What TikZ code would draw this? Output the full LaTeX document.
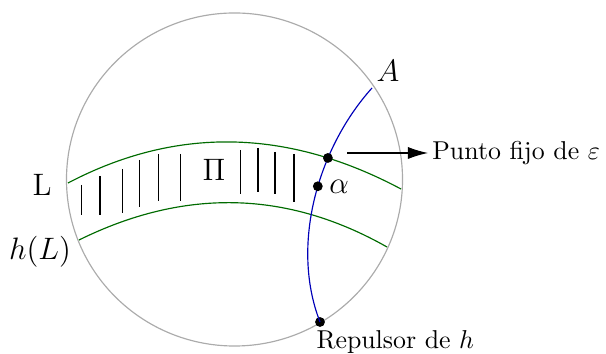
\documentclass[tikz,border=0pt]{standalone}
\usetikzlibrary{arrows.meta,intersections}
\begin{document}
\begin{tikzpicture}[x=0.387pt,y=-0.387pt,
  rim/.style={draw=black!33, line width=0.45pt},
  band/.style={draw=green!42!black, line width=0.45pt},
  orbit/.style={draw=blue!72!black, line width=0.45pt},
  hatch/.style={draw=black, line width=0.45pt},
  dot/.style={circle, fill=black, inner sep=0pt, minimum size=3.8pt},
  lbl/.style={font=\large, inner sep=0pt},
  txt/.style={inner sep=0pt},
  pointer/.style={-{Latex[length=7.8pt,width=4.7pt]}, line width=0.45pt}]
\useasboundingbox (0,0) rectangle (606,354);
% disk
\draw[rim] (234.5,179.5) ellipse [x radius=65.02pt, y radius=64.44pt];
% band boundaries
\path[band, name path=top] (68,183) .. controls (176,126.3) and (287,128.3) .. (401,189);
\path[band] (79,240) .. controls (184.3,188) and (287,190.3) .. (387,247);
% hatching
\foreach \x/\ya/\yb in {81.7/185/215, 100/176/215, 122.3/169/213, 139.7/160/207,
  158.7/154/201, 180.7/154/201, 240.7/150/194, 258/148/192, 275/152/194, 294/154/202}
  \draw[hatch] (\x,\ya) -- (\x,\yb);
% orbit
\coordinate (a) at (372,88);
\node[dot] (rep) at (320,322) {};
\path[orbit, name path=blue] (a) .. controls (318,148) and (290,245) .. (rep.center)
  node[pos=0.45, dot] (alpha) {};
\path[name intersections={of=top and blue, by=fix}];
\node[dot] (fixdot) at (fix) {};
% labels
\node[lbl] (lA) at (388,71) {$A$};
\node[lbl] (lL) at (42,185) {L};
\node[lbl] (lhL) at (40,252) {$h(L)$};
\node[lbl] (lPi) at (214,170) {$\Pi$};
\node[lbl] (lalpha) at (339,187) {$\alpha$};
\node[txt, anchor=base west] (lrep) at (316,349) {Repulsor de $h$};
% arrow to label
\coordinate (arrstart) at (347,153);
\node[inner sep=1.5pt, anchor=west] (pf) at (428,153) {Punto fijo de $\varepsilon$};
\draw[pointer] (arrstart) -- (pf.west);
\end{tikzpicture}
\end{document}
